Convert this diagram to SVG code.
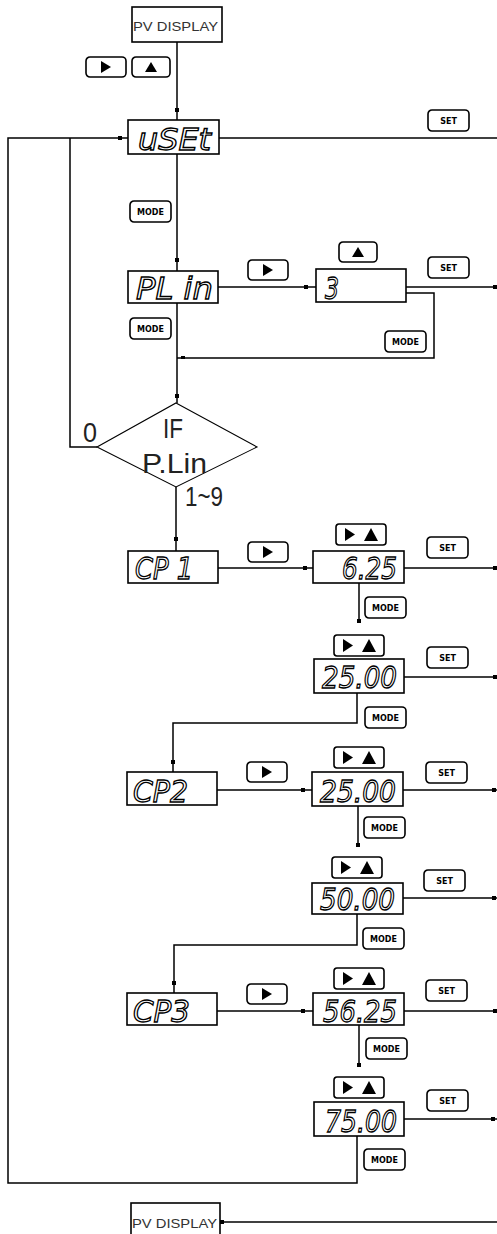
<svg xmlns="http://www.w3.org/2000/svg" width="497" height="1234" viewBox="0 0 497 1234">
<defs>
<style>
.box{fill:#fff;stroke:#000;stroke-width:1.6}
.btn{fill:#fff;stroke:#000;stroke-width:1.6}
.ln{fill:none;stroke:#000;stroke-width:1.5}
.dia{fill:#fff;stroke:#000;stroke-width:1.1}
.seg{font-family:"DejaVu Sans",sans-serif;font-style:italic;fill:#fff;stroke:#000;stroke-width:1.3;font-size:30px}
.pv{font-family:"Liberation Sans",sans-serif;font-size:13px;fill:#333}
.key{font-family:"DejaVu Sans",sans-serif;font-weight:bold;font-size:8px;fill:#000}
.lbl{font-family:"Liberation Sans",sans-serif;font-size:28px;fill:#222}
.dot{fill:#000}
</style>
<g id="btnR"><rect class="btn" x="0" y="0" width="40" height="20" rx="4"/><polygon points="15,4 15,16 25,10" fill="#000"/></g>
<g id="btnU"><rect class="btn" x="0" y="0" width="38" height="20" rx="4"/><polygon points="13,15 25,15 19,5" fill="#000"/></g>
<g id="btnRU"><rect class="btn" x="0" y="0" width="50" height="21" rx="3"/><polygon points="9,4 9,17 19,10.5" fill="#000"/><polygon points="28,17 42,17 35,4" fill="#000"/></g>
<g id="btnSet"><rect class="btn" x="0" y="0" width="41" height="21" rx="4"/><text class="key" x="20.5" y="14" text-anchor="middle">SET</text></g>
<g id="btnMode"><rect class="btn" x="0" y="0" width="41" height="21" rx="4"/><text class="key" x="20.5" y="14" text-anchor="middle">MODE</text></g>
</defs>
<rect width="497" height="1234" fill="#fff"/>

<g id="connectors">
<path class="ln" d="M177,42 V120"/>
<path class="ln" d="M357,1136 V1183 H8 V138 H128"/>
<path class="ln" d="M219,138 H497"/>
<path class="ln" d="M177,154 V271"/>
<path class="ln" d="M218,287 H316"/>
<path class="ln" d="M406,287 H497"/>
<path class="ln" d="M406,293 H434 V358 H177"/>
<path class="ln" d="M177,303 V403"/>
<path class="ln" d="M97,447 H70 V138"/>
<path class="ln" d="M176,487 V551"/>
<path class="ln" d="M218,568 H313"/>
<path class="ln" d="M404,568 H497"/>
<path class="ln" d="M359,583 V623"/>
<path class="ln" d="M404,677 H497"/>
<path class="ln" d="M357,693 V723 H173 V772"/>
<path class="ln" d="M217,790 H312"/>
<path class="ln" d="M403,790 H497"/>
<path class="ln" d="M358,806 V847"/>
<path class="ln" d="M403,898 H497"/>
<path class="ln" d="M357,914 V945 H174 V993"/>
<path class="ln" d="M217,1011 H313"/>
<path class="ln" d="M404,1011 H497"/>
<path class="ln" d="M359,1025 V1067"/>
<path class="ln" d="M404,1119 H497"/>
<path class="ln" d="M497,1222 H220"/>
<g class="dot">
<rect x="175" y="108" width="4" height="4"/>
<rect x="118" y="136" width="4" height="4"/>
<rect x="175" y="258" width="4" height="4"/>
<rect x="304" y="285" width="4" height="4"/>
<rect x="493" y="285" width="4" height="4"/>
<rect x="181" y="356" width="4" height="3"/>
<rect x="175" y="394" width="4" height="4"/>
<rect x="174" y="537" width="4" height="4"/>
<rect x="303" y="566" width="4" height="4"/>
<rect x="493" y="566" width="4" height="4"/>
<rect x="357" y="619" width="4" height="4"/>
<rect x="493" y="675" width="4" height="4"/>
<rect x="171" y="760" width="4" height="4"/>
<rect x="301" y="788" width="4" height="4"/>
<rect x="492" y="788" width="4" height="4"/>
<rect x="356" y="843" width="4" height="4"/>
<rect x="492" y="896" width="4" height="4"/>
<rect x="172" y="981" width="4" height="4"/>
<rect x="301" y="1009" width="4" height="4"/>
<rect x="493" y="1009" width="4" height="4"/>
<rect x="357" y="1063" width="4" height="4"/>
<rect x="491" y="1117" width="4" height="4"/>
<rect x="220" y="1220" width="4" height="4"/>
</g>
</g>

<g id="pv-top"><rect class="box" x="132" y="7" width="90" height="35"/><text class="pv" x="133" y="31" textLength="85" lengthAdjust="spacingAndGlyphs">PV DISPLAY</text></g>
<g id="keys-top"><use href="#btnR" x="86" y="57"/><use href="#btnU" x="132" y="57"/></g>

<g id="uset"><rect class="box" x="128" y="120" width="91" height="34"/><text class="seg" x="138" y="150" textLength="73" lengthAdjust="spacingAndGlyphs">uSEt</text></g>
<g id="set-uset"><use href="#btnSet" x="428" y="110"/></g>
<g id="mode-1"><use href="#btnMode" x="130" y="201"/></g>

<g id="plin"><rect class="box" x="128" y="271" width="90" height="32"/><text class="seg" x="136" y="299" textLength="77" lengthAdjust="spacingAndGlyphs">PL in</text></g>
<g id="key-r1"><use href="#btnR" x="248" y="260"/></g>
<g id="v3"><rect class="box" x="316" y="269" width="90" height="33"/><text class="seg" x="325" y="299" textLength="14" lengthAdjust="spacingAndGlyphs">3</text></g>
<g id="key-u1"><use href="#btnU" x="339" y="242"/></g>
<g id="set-3"><use href="#btnSet" x="428" y="257"/></g>
<g id="mode-3"><use href="#btnMode" x="385" y="331"/></g>
<g id="mode-plin"><use href="#btnMode" x="130" y="318"/></g>

<g id="decision">
<polygon class="dia" points="176,403 257,447 176,487 97,447"/>
<text class="lbl" x="163" y="438" textLength="20" lengthAdjust="spacingAndGlyphs">IF</text>
<text class="lbl" x="142" y="473" textLength="65" lengthAdjust="spacingAndGlyphs">P.Lin</text>
</g>
<text class="lbl" x="83" y="442" textLength="14" lengthAdjust="spacingAndGlyphs">0</text>
<text class="lbl" x="185" y="506" font-size="25" textLength="38" lengthAdjust="spacingAndGlyphs">1~9</text>

<g id="cp1"><rect class="box" x="128" y="551" width="90" height="32"/><text class="seg" x="135" y="579" textLength="58" lengthAdjust="spacingAndGlyphs">CP 1</text></g>
<g id="key-r2"><use href="#btnR" x="248" y="542"/></g>
<g id="v625"><rect class="box" x="313" y="551" width="91" height="32"/><text class="seg" x="342" y="579" textLength="55" lengthAdjust="spacingAndGlyphs">6.25</text></g>
<g id="key-ru1"><use href="#btnRU" x="336" y="524"/></g>
<g id="set-625"><use href="#btnSet" x="427" y="537"/></g>
<g id="mode-625"><use href="#btnMode" x="365" y="597"/></g>

<g id="v2500a"><rect class="box" x="314" y="659" width="90" height="34"/><text class="seg" x="322" y="688" textLength="75" lengthAdjust="spacingAndGlyphs">25.00</text></g>
<g id="key-ru2"><use href="#btnRU" x="334" y="635"/></g>
<g id="set-2500a"><use href="#btnSet" x="427" y="647"/></g>
<g id="mode-2500a"><use href="#btnMode" x="365" y="707"/></g>

<g id="cp2"><rect class="box" x="127" y="772" width="90" height="33"/><text class="seg" x="133" y="802" textLength="55" lengthAdjust="spacingAndGlyphs">CP2</text></g>
<g id="key-r3"><use href="#btnR" x="247" y="762"/></g>
<g id="v2500b"><rect class="box" x="312" y="772" width="91" height="34"/><text class="seg" x="320" y="802" textLength="76" lengthAdjust="spacingAndGlyphs">25.00</text></g>
<g id="key-ru3"><use href="#btnRU" x="334" y="747"/></g>
<g id="set-2500b"><use href="#btnSet" x="426" y="762"/></g>
<g id="mode-2500b"><use href="#btnMode" x="364" y="817"/></g>

<g id="v5000"><rect class="box" x="312" y="883" width="91" height="31"/><text class="seg" x="320" y="910" textLength="75" lengthAdjust="spacingAndGlyphs">50.00</text></g>
<g id="key-ru4"><use href="#btnRU" x="332" y="857"/></g>
<g id="set-5000"><use href="#btnSet" x="424" y="870"/></g>
<g id="mode-5000"><use href="#btnMode" x="363" y="928"/></g>

<g id="cp3"><rect class="box" x="127" y="993" width="90" height="32"/><text class="seg" x="133" y="1022" textLength="57" lengthAdjust="spacingAndGlyphs">CP3</text></g>
<g id="key-r4"><use href="#btnR" x="247" y="984"/></g>
<g id="v5625"><rect class="box" x="313" y="993" width="91" height="32"/><text class="seg" x="323" y="1022" textLength="74" lengthAdjust="spacingAndGlyphs">56.25</text></g>
<g id="key-ru5"><use href="#btnRU" x="334" y="968"/></g>
<g id="set-5625"><use href="#btnSet" x="426" y="980"/></g>
<g id="mode-5625"><use href="#btnMode" x="366" y="1038"/></g>

<g id="v7500"><rect class="box" x="314" y="1102" width="90" height="34"/><text class="seg" x="325" y="1132" textLength="72" lengthAdjust="spacingAndGlyphs">75.00</text></g>
<g id="key-ru6"><use href="#btnRU" x="334" y="1077"/></g>
<g id="set-7500"><use href="#btnSet" x="427" y="1090"/></g>
<g id="mode-7500"><use href="#btnMode" x="364" y="1149"/></g>

<g id="pv-bottom"><rect class="box" x="131" y="1203" width="89" height="40"/><text class="pv" x="132" y="1228" textLength="85" lengthAdjust="spacingAndGlyphs">PV DISPLAY</text></g>
</svg>
